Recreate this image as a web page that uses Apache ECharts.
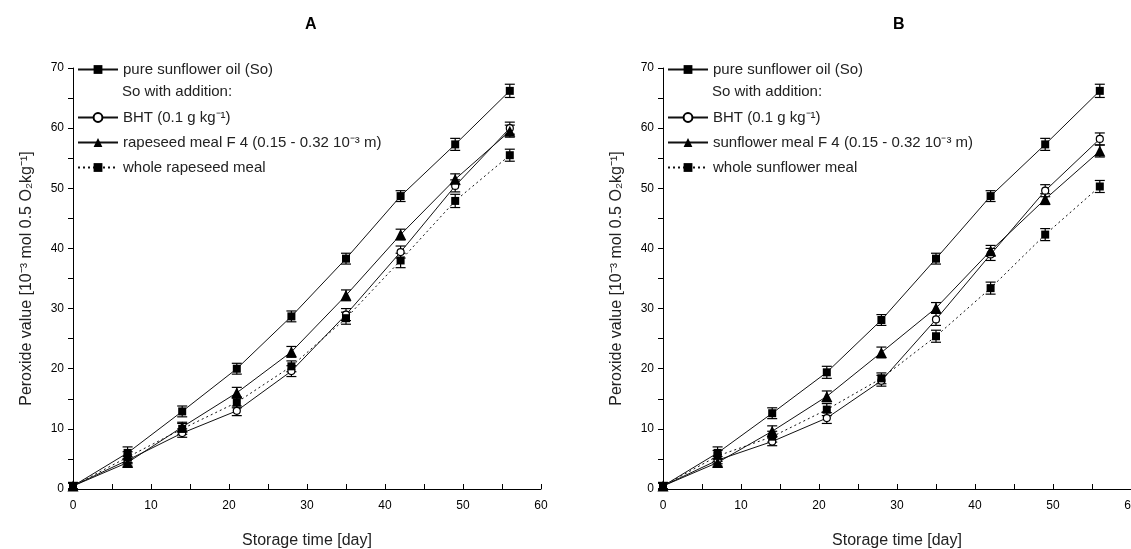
<!DOCTYPE html>
<html>
<head>
<meta charset="utf-8">
<script src="https://cdn.jsdelivr.net/npm/echarts@6/dist/echarts.min.js"></script>
<style>
html,body{margin:0;padding:0;background:#fff;}
#c{width:1131px;height:549px;}
</style>
</head>
<body>
<div id="c"></div>
<script>
// ---- data ----
const days = [0, 7, 14, 21, 28, 35, 42, 49, 56];
const xTicks = [0, 10, 20, 30, 40, 50, 60];
const yTicks = [0, 10, 20, 30, 40, 50, 60, 70];

// Panel A
const soA    = [0.5, 6.0, 12.9, 20.0, 28.7, 38.3, 48.7, 57.3, 66.2];
const bhtA   = [0.5, 4.8,  9.3, 13.0, 19.6, 29.0, 39.4, 50.4, 60.0];
const f4A    = [0.5, 4.4, 10.3, 16.0, 22.8, 32.2, 42.3, 51.5, 59.5];
const wholeA = [0.5, 5.3, 10.0, 14.4, 20.4, 28.4, 38.0, 47.9, 55.5];
const errSoA    = [0.6, 1.0, 0.9, 0.9, 0.9, 0.9, 0.9, 1.0, 1.1];
const errBhtA   = [0.5, 0.6, 0.7, 0.8, 0.9, 1.0, 1.0, 1.0, 1.0];
const errF4A    = [0.5, 0.6, 0.8, 0.9, 0.9, 0.9, 0.9, 0.9, 1.0];
const errWholeA = [0.5, 0.9, 0.9, 0.9, 0.9, 1.0, 1.2, 1.1, 1.0];

// Panel B
const soB    = [0.5, 6.0, 12.6, 19.4, 28.1, 38.3, 48.7, 57.3, 66.2];
const bhtB   = [0.5, 4.8,  7.9, 11.8, 18.0, 28.2, 39.0, 49.6, 58.2];
const f4B    = [0.5, 4.4,  9.6, 15.4, 22.7, 30.1, 39.6, 48.2, 56.2];
const wholeB = [0.5, 5.5,  8.7, 13.2, 18.4, 25.4, 33.4, 42.3, 50.3];
const errSoB    = [0.6, 1.0, 0.9, 1.0, 0.9, 0.9, 0.9, 1.0, 1.1];
const errBhtB   = [0.5, 0.6, 0.7, 0.9, 0.9, 1.0, 1.0, 1.0, 1.0];
const errF4B    = [0.5, 0.6, 0.9, 0.9, 0.9, 0.9, 0.9, 0.9, 1.0];
const errWholeB = [0.5, 0.9, 0.9, 1.0, 0.9, 1.0, 1.0, 1.0, 1.0];

const nameSo = 'pure sunflower oil (So)';
const nameBHT = 'BHT (0.1 g kg\u207B\u00B9)';
const nameF4A = 'rapeseed meal F 4 (0.15 - 0.32 10\u207B\u00B3 m)';
const nameWholeA = 'whole rapeseed meal';
const nameF4B = 'sunflower meal F 4 (0.15 - 0.32 10\u207B\u00B3 m)';
const nameWholeB = 'whole sunflower meal';
const yName = 'Peroxide value [10\u207B\u00B3 mol 0.5 O\u2082kg\u207B\u00B9]';
const xName = 'Storage time [day]';

// ---- chart ----
const FONT = 'Liberation Sans, Arial, sans-serif';
const chart = echarts.init(document.getElementById('c'), null, {renderer: 'canvas'});

function pairs(xs, ys) { return xs.map((x, i) => [x, ys[i]]); }
function errData(xs, ys, es) { return xs.map((x, i) => [x, ys[i] - es[i], ys[i] + es[i]]); }

const styles = {
  so:    {symbol: 'rect', symbolSize: 8, line: 'solid', fill: '#000'},
  bht:   {symbol: 'circle', symbolSize: 7, line: 'solid', fill: '#fff'},
  f4:    {symbol: 'triangle', symbolSize: 11, line: 'solid', fill: '#000'},
  whole: {symbol: 'rect', symbolSize: 8, line: [2, 3], fill: '#000'}
};

function lineSeries(name, ys, st, idx) {
  return {
    type: 'line', name: name, xAxisIndex: idx, yAxisIndex: idx,
    data: pairs(days, ys), symbol: st.symbol, symbolSize: st.symbolSize,
    showAllSymbol: true, animation: false, z: 3,
    lineStyle: {color: '#111', width: 1, type: st.line},
    itemStyle: {color: st.fill, borderColor: '#000', borderWidth: st.fill === '#fff' ? 1.2 : 0}
  };
}
function errSeries(ys, es, idx) {
  return {
    type: 'custom', xAxisIndex: idx, yAxisIndex: idx, animation: false, z: 2,
    data: errData(days, ys, es), silent: true,
    renderItem: function (params, api) {
      const x = api.value(0);
      const lo = api.coord([x, api.value(1)]);
      const hi = api.coord([x, api.value(2)]);
      const w = 5;
      const st = {stroke: '#000', lineWidth: 1.2};
      return {type: 'group', children: [
        {type: 'line', shape: {x1: lo[0], y1: lo[1], x2: hi[0], y2: hi[1]}, style: st},
        {type: 'line', shape: {x1: lo[0] - w, y1: lo[1], x2: lo[0] + w, y2: lo[1]}, style: st},
        {type: 'line', shape: {x1: hi[0] - w, y1: hi[1], x2: hi[0] + w, y2: hi[1]}, style: st}
      ]};
    }
  };
}

function xAxis(idx) {
  return {
    type: 'value', gridIndex: idx, min: 0, max: 60, interval: 5,
    name: xName, nameLocation: 'middle', nameGap: 44,
    nameTextStyle: {fontFamily: FONT, fontSize: 16, color: '#222'},
    axisLine: {show: true, onZero: false, lineStyle: {color: '#000', width: 1}},
    axisTick: {show: true, inside: true, length: 5, lineStyle: {color: '#000'}},
    axisLabel: {fontFamily: FONT, fontSize: 12, color: '#000', margin: 11,
      formatter: v => (xTicks.indexOf(v) >= 0 ? String(v) : '')},
    splitLine: {show: false}
  };
}
function yAxis(idx) {
  return {
    type: 'value', gridIndex: idx, min: 0, max: 70, interval: 5,
    name: yName, nameLocation: 'middle', nameGap: 38, nameRotate: 90,
    nameTextStyle: {fontFamily: FONT, fontSize: 16, color: '#222'},
    axisLine: {show: true, onZero: false, lineStyle: {color: '#000', width: 1}},
    axisTick: {show: true, inside: false, length: 5, lineStyle: {color: '#000'}},
    axisLabel: {fontFamily: FONT, fontSize: 12, color: '#000', margin: 9,
      formatter: v => (yTicks.indexOf(v) >= 0 ? String(v) : '')},
    splitLine: {show: false}
  };
}

const legendText = {fontFamily: FONT, fontSize: 15, color: '#222'};
function legend(left, top, data) {
  return {
    orient: 'vertical', left: left, top: top, data: data,
    itemWidth: 40, itemHeight: 11, itemGap: 10, selectedMode: false,
    textStyle: legendText, padding: 0
  };
}

const option = {
  backgroundColor: '#fff',
  animation: false,
  title: [
    {text: 'A', left: 300, top: 12, textStyle: {fontFamily: FONT, fontSize: 16, fontWeight: 'bold', color: '#000'}},
    {text: 'B', left: 888, top: 12, textStyle: {fontFamily: FONT, fontSize: 16, fontWeight: 'bold', color: '#000'}}
  ],
  grid: [
    {left: 73, top: 68, width: 468, height: 421, containLabel: false, outerBoundsMode: 'none'},
    {left: 663, top: 68, width: 468, height: 421, containLabel: false, outerBoundsMode: 'none'}
  ],
  xAxis: [xAxis(0), xAxis(1)],
  yAxis: [yAxis(0), yAxis(1)],
  legend: [
    legend(77, 62, [nameSo]),
    legend(77, 110, [nameBHT, nameF4A, nameWholeA]),
    legend(667, 62, [nameSo]),
    legend(667, 110, [nameBHT, nameF4B, nameWholeB])
  ],
  graphic: [
    {type: 'text', left: 122, top: 84, style: {text: 'So with addition:', font: '15px ' + FONT, fill: '#222'}},
    {type: 'text', left: 712, top: 84, style: {text: 'So with addition:', font: '15px ' + FONT, fill: '#222'}}
  ],
  series: [
    errSeries(soA, errSoA, 0), errSeries(bhtA, errBhtA, 0), errSeries(f4A, errF4A, 0), errSeries(wholeA, errWholeA, 0),
    lineSeries(nameSo, soA, styles.so, 0),
    lineSeries(nameBHT, bhtA, styles.bht, 0),
    lineSeries(nameF4A, f4A, styles.f4, 0),
    lineSeries(nameWholeA, wholeA, styles.whole, 0),
    errSeries(soB, errSoB, 1), errSeries(bhtB, errBhtB, 1), errSeries(f4B, errF4B, 1), errSeries(wholeB, errWholeB, 1),
    lineSeries(nameSo, soB, styles.so, 1),
    lineSeries(nameBHT, bhtB, styles.bht, 1),
    lineSeries(nameF4B, f4B, styles.f4, 1),
    lineSeries(nameWholeB, wholeB, styles.whole, 1)
  ]
};
chart.setOption(option);
</script>
</body>
</html>
